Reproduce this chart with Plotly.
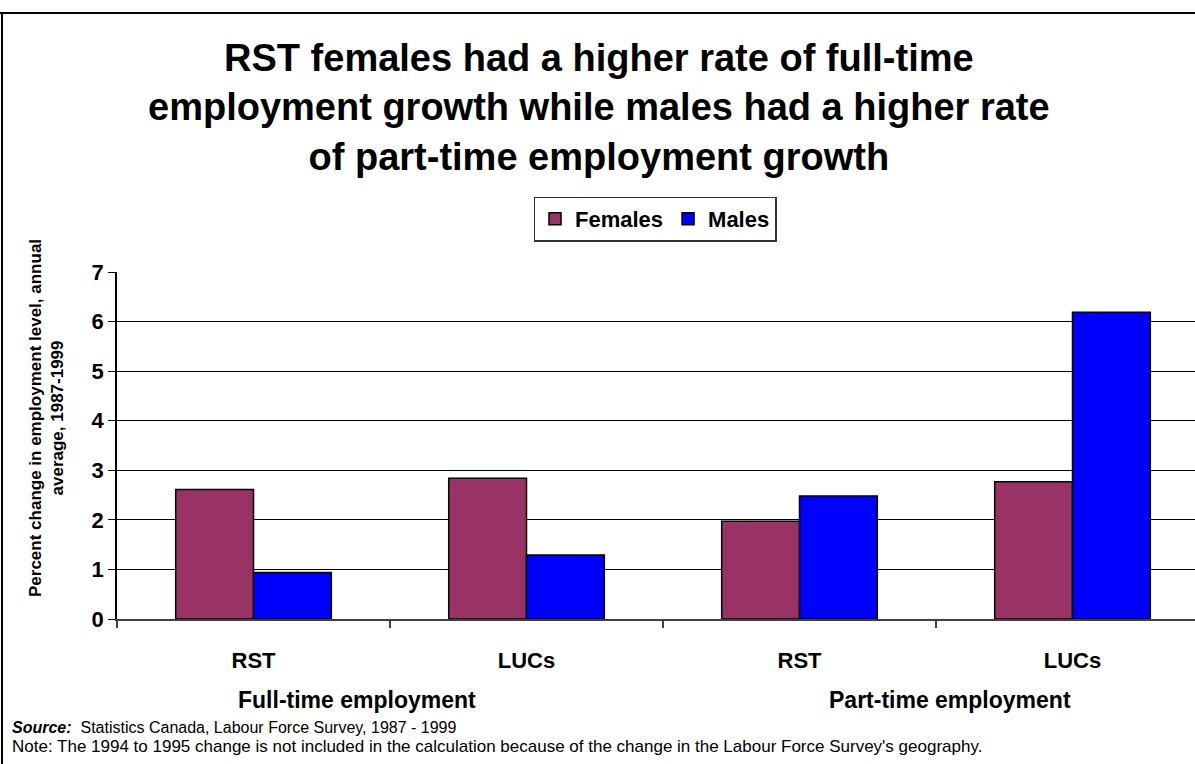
import plotly.graph_objects as go

# Data
categories = ["RST", "LUCs", "RST", "LUCs"]
females = [2.61, 2.84, 1.97, 2.77]
males = [0.94, 1.29, 2.48, 6.19]
y_ticks = [0, 1, 2, 3, 4, 5, 6, 7]
group_labels = ["Full-time employment", "Part-time employment"]

W, H = 1195, 764
L, R, T, B = 117, 0, 272, 145
PW, PH = W - L - R, H - T - B
CAT_W = 273  # pixel width of one category slot


def px(x):
    return (x - L) / PW


def py(y):
    return (H - B - y) / PH


FONT = "Arial, Liberation Sans, sans-serif"
xpos = list(range(len(categories)))

fig = go.Figure()
fig.add_trace(go.Bar(x=xpos, y=females, name="Females",
                     marker=dict(color="#993366", line=dict(color="#000000", width=1.5))))
fig.add_trace(go.Bar(x=xpos, y=males, name="Males",
                     marker=dict(color="#0000FF", line=dict(color="#000000", width=1.5))))

fig.update_layout(
    width=W, height=H,
    margin=dict(l=L, r=R, t=T, b=B),
    paper_bgcolor="white", plot_bgcolor="white",
    barmode="group", bargap=0.43, bargroupgap=0,
    showlegend=True,
    legend=dict(orientation="h", x=px(655), xanchor="center", y=py(219), yanchor="middle",
                bordercolor="#333333", borderwidth=1.5, bgcolor="white",
                font=dict(family=FONT, size=22, color="black", weight="bold"),
                itemwidth=30, tracegroupgap=0),
    xaxis=dict(
        range=[-0.5, -0.5 + PW / CAT_W],
        tickvals=xpos, ticktext=categories,
        ticks="", ticklabelstandoff=21,
        tickfont=dict(family=FONT, size=22, color="black", weight="bold"),
        showgrid=False, zeroline=False,
        showline=True, linecolor="#404040", linewidth=2,
        minor=dict(tickvals=[-0.5, 0.5, 1.5, 2.5], ticks="outside", ticklen=7,
                   tickcolor="#404040", tickwidth=1.5, showgrid=False),
    ),
    yaxis=dict(
        range=[0, 7], tickvals=y_ticks,
        ticks="outside", ticklen=7, tickcolor="#000000", tickwidth=1,
        tickfont=dict(family=FONT, size=22, color="black", weight="bold"),
        ticklabelstandoff=0,
        showgrid=True, gridcolor="#000000", gridwidth=1,
        zeroline=False,
        showline=True, linecolor="#000000", linewidth=1.5,
    ),
)

annotations = [
    dict(text="RST females had a higher rate of full-time<br>employment growth while males had a higher rate<br>of part-time employment growth",
         x=px(599), y=py(108), xref="paper", yref="paper", xanchor="center", yanchor="middle",
         showarrow=False, font=dict(family=FONT, size=38, color="black", weight="bold")),
    dict(text="Percent change in employment level, annual<br>average, 1987-1999",
         x=px(46), y=py(418), xref="paper", yref="paper", xanchor="center", yanchor="middle",
         textangle=-90, showarrow=False,
         font=dict(family=FONT, size=17, color="black", weight="bold")),
    dict(text=group_labels[0], x=px(357), y=py(700), xref="paper", yref="paper",
         xanchor="center", yanchor="middle", showarrow=False,
         font=dict(family=FONT, size=23, color="black", weight="bold")),
    dict(text=group_labels[1], x=px(950), y=py(700), xref="paper", yref="paper",
         xanchor="center", yanchor="middle", showarrow=False,
         font=dict(family=FONT, size=23, color="black", weight="bold")),
    dict(text="<b><i>Source:</i></b>  Statistics Canada, Labour Force Survey, 1987 - 1999",
         x=px(10), y=py(727), xref="paper", yref="paper", xanchor="left", yanchor="middle",
         showarrow=False, font=dict(family=FONT, size=16, color="black")),
    dict(text="Note: The 1994 to 1995 change is not included in the calculation because of the change in the Labour Force Survey's geography.",
         x=px(10), y=py(746), xref="paper", yref="paper", xanchor="left", yanchor="middle",
         showarrow=False, font=dict(family=FONT, size=17, color="black")),
]
fig.update_layout(annotations=annotations)

# Outer frame (top and left edges)
fig.add_shape(type="line", xref="paper", yref="paper",
              x0=px(0), x1=px(W), y0=py(13), y1=py(13),
              line=dict(color="black", width=2))
fig.add_shape(type="line", xref="paper", yref="paper",
              x0=px(2), x1=px(2), y0=py(13), y1=py(H),
              line=dict(color="black", width=2))

fig.write_html("out.html")
